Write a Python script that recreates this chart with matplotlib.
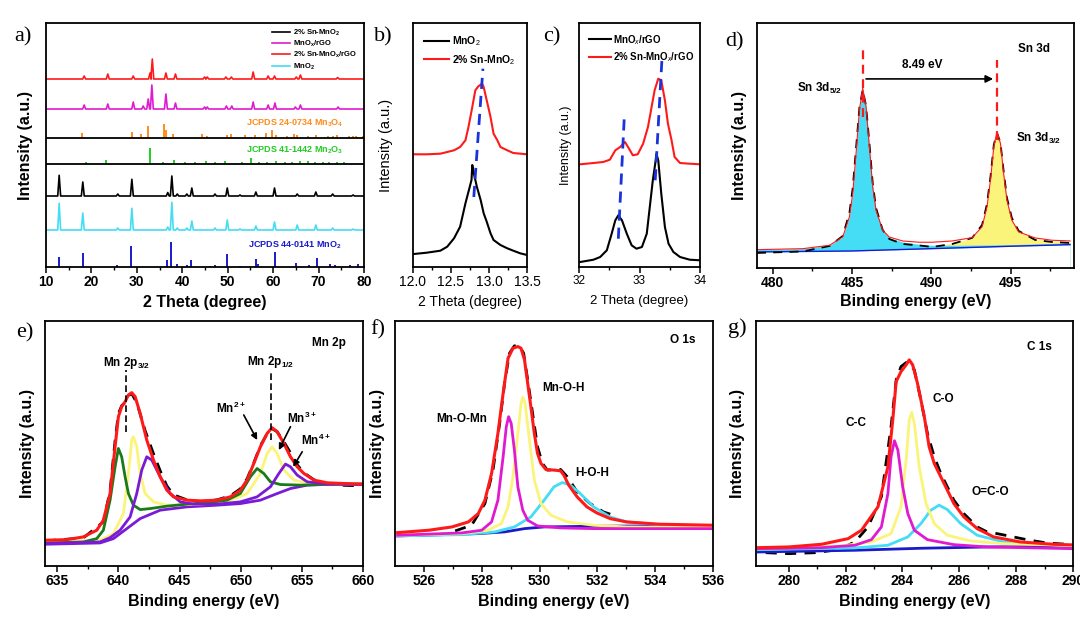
import matplotlib
matplotlib.use('Agg')
import matplotlib.pyplot as plt

plt.rcParams.update({
    'font.family': ['Liberation Sans', 'DejaVu Sans'],
    'mathtext.fontset': 'custom',
    'mathtext.rm': 'Liberation Sans',
    'mathtext.it': 'Liberation Sans:italic',
    'mathtext.bf': 'Liberation Sans:bold',
})

# ---------------- (a) XRD patterns: peak positions (2theta) and heights (a.u.)
a_sn_rgo_pos = [18.4, 23.6, 29.2, 32.9, 33.4, 36.4, 38.5, 44.9, 45.5, 49.6, 50.8, 55.6, 58.9, 60.3, 65.1, 66.0, 74.2]
a_sn_rgo_h = [3, 5, 3, 6, 20, 6, 5, 2, 2, 2, 2, 7, 3, 3, 2, 4, 1.5]
a_rgo_pos = [18.4, 23.6, 29.2, 31.4, 32.5, 33.3, 36.4, 38.5, 44.9, 45.5, 49.7, 50.9, 55.6, 58.9, 60.4, 64.9, 66.0, 74.3]
a_rgo_h = [4, 5, 7, 3, 10, 24, 15, 6, 2, 2, 3, 3, 7, 4, 6, 2, 4, 2]
a_sn_pos = [12.9, 18.1, 25.8, 28.9, 36.8, 37.7, 38.9, 41.0, 42.1, 47.2, 49.9, 52.7, 56.2, 60.3, 65.3, 69.4, 73.1, 77.6]
a_sn_h = [20.7, 14, 2, 16.7, 3.5, 20, 2, 2, 8, 2, 8, 1, 4, 8, 2, 4, 2, 1]
a_mno2_pos = [12.9, 18.1, 25.8, 28.9, 36.8, 37.7, 38.9, 41.0, 42.1, 47.2, 49.9, 52.7, 56.2, 60.3, 65.3, 69.4, 73.1, 77.6]
a_mno2_h = [26.7, 17, 2, 21.7, 3, 27.7, 2, 2, 9, 2, 10, 1, 4, 8, 5, 5, 2, 1]
# reference sticks
mn3o4_pos = [18.0, 28.9, 31.0, 32.4, 36.0, 36.4, 38.0, 44.4, 45.4, 49.8, 50.7, 53.8, 56.0, 58.5, 59.8, 60.6, 63.0,
             64.6, 65.3, 67.6, 69.5, 72.0, 73.2, 74.0, 76.6, 77.5, 78.3, 79.8]
mn3o4_h = [5, 6, 4, 12, 14, 8, 4, 4, 2.5, 3, 4.5, 3, 3, 5, 8, 3, 2, 4, 3, 2, 3, 2, 2, 3, 2, 2, 2, 2]
mn2o3_pos = [18.8, 23.1, 33.0, 35.7, 38.2, 40.6, 42.9, 45.2, 47.3, 49.4, 53.2, 55.1, 56.9, 58.7, 60.6, 62.5, 64.2,
             66.0, 67.7, 69.2, 70.9, 72.4, 74.0, 75.6]
mn2o3_h = [2.5, 4, 16, 2, 4, 2, 2, 3, 2, 3, 2, 6, 2, 2, 3, 2, 2.5, 3, 3, 2, 2, 2, 2, 2]
mno2_ref_pos = [12.8, 18.1, 25.7, 28.8, 36.7, 37.5, 38.9, 41.0, 42.0, 46.2, 47.2, 49.9, 52.7, 56.2, 56.7, 60.3, 65.0,
                68.0, 69.6, 72.5, 73.6, 77.0, 78.7]
mno2_ref_h = [9.7, 13.7, 2, 21, 7, 25, 3, 2, 7.5, 1, 2, 13, 1, 8, 3, 15, 4.5, 2, 9, 3, 2, 2, 3]

# ---------------- (b) zoom at (001)
b_x_mno2 = [12.01, 12.18, 12.36, 12.45, 12.54, 12.62, 12.69, 12.73, 12.77, 12.78, 12.80, 12.84, 12.89, 12.93, 12.97,
            13.02, 13.06, 13.15, 13.24, 13.32, 13.41, 13.50]
b_y_mno2 = [13, 14.3, 16.3, 20.3, 28.7, 40.3, 63.7, 75.3, 87, 102, 93.7, 80.3, 67, 53.7, 45.3, 33.7, 27, 22, 18.7,
            16.3, 13.7, 12]
b_x_sn = [12.01, 12.18, 12.36, 12.45, 12.54, 12.62, 12.69, 12.73, 12.78, 12.82, 12.86, 12.91, 12.93, 12.97, 13.02,
          13.06, 13.11, 13.15, 13.24, 13.32, 13.50]
b_y_sn = [112.7, 112.7, 113.3, 115, 116.7, 120, 126.7, 140, 160, 176.7, 180.7, 183.3, 180, 166.7, 150, 133.3, 126.7,
          120, 116.7, 114, 112.7]

# ---------------- (c)
c_x_rgo = [32.02, 32.24, 32.35, 32.46, 32.54, 32.60, 32.65, 32.71, 32.79, 32.87, 32.95, 33.04, 33.12, 33.17, 33.22,
           33.26, 33.28, 33.31, 33.36, 33.42, 33.48, 33.56, 33.67, 33.83, 34.0]
c_y_rgo = [5, 7.3, 10, 16.7, 33.3, 46.7, 51.7, 46.7, 33.3, 21.7, 18.3, 20, 33.3, 60, 86.7, 103.3, 113.3, 106.7, 73.3,
           40, 23.3, 15, 10, 7.3, 6.7]
c_x_sn = [32.02, 32.24, 32.40, 32.51, 32.60, 32.68, 32.76, 32.81, 32.89, 32.97, 33.06, 33.14, 33.19, 33.25, 33.31,
          33.36, 33.42, 33.47, 33.53, 33.58, 33.67, 33.83, 34.0]
c_y_sn = [102.7, 104, 105, 107.3, 116.7, 120, 125, 120, 111.7, 112.7, 123.3, 140, 156.7, 176.7, 188.3, 186.7, 166.7,
          143.3, 126.7, 110, 104, 103.3, 102.7]

# ---------------- (d) Sn 3d
d_x_env = [479.0, 481.9, 483.58, 484.41, 484.83, 485.04, 485.25, 485.46, 485.67, 485.88, 486.09, 486.30, 486.51,
           486.93, 487.34, 488.18, 489.23, 490.06, 491.32, 492.57, 493.2, 493.51, 493.73, 493.94, 494.14, 494.36,
           494.56, 494.77, 495.08, 495.51, 496.55, 497.6, 498.75]
d_y_env = [18.3, 19.3, 22.7, 31, 51, 74.3, 114.3, 157.7, 179.3, 161, 121, 81, 57.7, 37.7, 31, 27, 25.7, 25.7, 27,
           30.3, 41, 61, 87.7, 121, 136, 124.3, 94.3, 67.7, 47.7, 36, 30, 27.7, 27]
d_y_raw = [15, 16.5, 22, 32, 55, 80, 120, 160, 178, 162, 125, 85, 60, 38, 29, 24, 22.5, 21, 24, 30, 43, 64, 91, 123,
           135, 125, 97, 70, 50, 37, 28, 26, 25]
d_x_52 = [479.0, 481.9, 483.58, 484.41, 484.83, 485.04, 485.25, 485.46, 485.67, 485.88, 486.09, 486.30, 486.51,
          486.93, 487.34, 488.18, 489.23, 490.06, 492.0, 495.0, 498.75]
d_y_52 = [18.3, 19.3, 22.7, 31, 51, 74.3, 114.3, 157.7, 179.3, 161, 121, 81, 57.7, 37.7, 30.3, 26, 23.7, 22.7, 22.7,
          23.3, 25]
d_x_32 = [479.0, 490.0, 491.32, 492.57, 493.2, 493.51, 493.73, 493.94, 494.14, 494.36, 494.56, 494.77, 495.08,
          495.51, 496.55, 497.6, 498.75]
d_y_32 = [16.3, 19.7, 25.3, 29.3, 41, 61, 87.7, 121, 136, 124.3, 94.3, 67.7, 47.7, 36, 29.3, 27, 26]
d_x_bg = [479.0, 485.0, 490.0, 495.0, 498.75]
d_y_bg = [16, 17, 19.3, 21.7, 23.3]

# ---------------- (e) Mn 2p
e_x_env = [634.0, 635.77, 637.13, 638.23, 638.77, 639.32, 639.73, 640.0, 640.27, 640.55, 640.82, 641.09, 641.37,
           641.78, 642.32, 642.87, 643.42, 643.96, 644.51, 645.6, 646.7, 648.06, 649.15, 649.97, 650.52, 651.07,
           651.61, 652.16, 652.57, 652.98, 653.53, 654.07, 654.62, 655.17, 655.99, 657.08, 658.45, 660.03]
e_y_env = [25.7, 26.3, 29, 35.7, 45.7, 72.3, 119, 149, 159, 164, 170.7, 173, 169, 152.3, 125.7, 105.7, 89, 75.7, 69,
           65.7, 65, 65.7, 69, 75.7, 85.7, 102.3, 119, 132.3, 138, 134, 122.3, 109, 99, 92.3, 85.7, 83, 82.3, 81.7]
e_x_raw = [634.0, 637.13, 638.77, 639.32, 639.73, 640.0, 640.27, 640.55, 640.82, 641.09, 641.5, 642.19, 642.87,
           643.42, 643.96, 644.51, 645.6, 646.7, 648.06, 649.15, 649.97, 650.52, 651.07, 651.61, 652.16, 652.57,
           652.98, 653.53, 654.07, 654.62, 655.17, 655.99, 657.08, 658.45, 660.03]
e_y_raw = [25, 28, 44, 75, 125, 152, 160, 163, 170, 172, 163, 135, 112, 95, 80, 71, 66, 64, 66, 70, 77, 87, 103, 120,
           132, 137, 134, 124, 113, 101, 93, 86, 82, 80.5, 80]
e_x_mn2 = [634.0, 637.13, 638.23, 638.77, 639.32, 639.73, 640.0, 640.27, 640.55, 640.82, 641.23, 641.78, 642.6,
           643.96, 645.6, 647.24, 648.88, 649.97, 650.79, 651.34, 651.89, 652.43, 653.25, 654.89, 657.63, 660.03]
e_y_mn2 = [23, 24, 27.3, 35.7, 65.7, 99, 117.3, 109, 89, 72.3, 60.7, 56.3, 57.3, 59.7, 61.7, 63, 65.7, 72.3, 89, 97.3,
           92.3, 84, 81.3, 80.7, 81.7, 81.7]
e_x_mn3 = [634.0, 638.5, 639.59, 640.41, 640.82, 641.09, 641.23, 641.5, 641.78, 642.19, 642.87, 643.96, 646.7,
           648.88, 650.52, 651.61, 652.16, 652.57, 652.98, 653.53, 654.35, 655.72, 657.63, 660.03]
e_y_mn3 = [24, 25.7, 32.3, 52.3, 92.3, 125.7, 129, 119, 92.3, 72.3, 64, 60.7, 61.7, 64, 72.3, 92.3, 112.3, 119,
           112.3, 95.7, 85.7, 82.3, 81.7, 81.7]
e_x_mn4 = [634.0, 638.5, 639.32, 640.14, 640.96, 641.5, 641.91, 642.32, 642.73, 643.42, 644.24, 645.06, 646.15,
           648.06, 649.97, 651.34, 652.43, 653.12, 653.66, 654.07, 654.62, 655.44, 657.08, 660.03]
e_y_mn4 = [22.3, 24, 28.3, 35.7, 49, 72.3, 95.7, 109, 105.7, 89, 72.3, 64, 61.7, 61.7, 64, 69, 79, 92.3, 101.7, 99,
           90.7, 84, 81.7, 81.3]
e_x_bg = [634.0, 638.5, 639.59, 640.69, 641.78, 643.42, 645.6, 648.06, 649.97, 651.61, 652.98, 654.07, 655.44,
          657.63, 660.03]
e_y_bg = [21.7, 23, 27.3, 37.3, 47.3, 55.7, 59, 60.7, 62.3, 65.7, 72.3, 77.3, 80.7, 81.7, 81.7]

# ---------------- (f) O 1s
f_x_env = [525.09, 526.17, 526.97, 527.54, 527.88, 528.11, 528.34, 528.56, 528.74, 528.91, 529.08, 529.25, 529.36,
           529.48, 529.59, 529.70, 529.82, 529.93, 530.05, 530.22, 530.50, 530.73, 530.84, 531.01, 531.30, 531.64,
           531.98, 532.44, 533.01, 534.15, 535.97]
f_y_env = [33.3, 35.7, 39, 44, 52.3, 65.7, 92.3, 132.3, 172.3, 207.3, 217.3, 219, 217.3, 205.7, 182.3, 159, 132.3,
           112.3, 102.3, 96.3, 95.7, 95, 90.7, 80.7, 69, 59, 53, 47.3, 44, 41.7, 40.7]
f_x_raw = [527.08, 527.65, 528.11, 528.39, 528.62, 528.79, 528.96, 529.13, 529.3, 529.45, 529.59, 529.76, 529.93,
           530.1, 530.27, 530.73, 530.96, 531.3, 531.75, 532.21, 532.55]
f_y_raw = [35, 40.7, 62.3, 95.7, 142.3, 182.3, 212.3, 219.7, 219.7, 212.3, 185.7, 152.3, 119, 102.3, 95.7, 96.3, 89,
           74, 62.3, 54, 50.7]
f_x_mom = [525.09, 527.31, 528.0, 528.34, 528.56, 528.74, 528.85, 528.93, 529.02, 529.13, 529.25, 529.42, 529.59,
           529.93, 530.73, 531.87, 535.97]
f_y_mom = [30.7, 33, 35.7, 44, 65.7, 109, 139, 149, 142.3, 115.7, 79, 55.7, 45.7, 40, 38, 37.3, 37.3]
f_x_moh = [525.09, 527.31, 528.22, 528.68, 528.91, 529.08, 529.25, 529.36, 529.42, 529.5, 529.65, 529.82, 530.05,
           530.39, 530.96, 531.87, 533.01, 535.97]
f_y_moh = [30.7, 32.3, 35.7, 42.3, 59, 89, 132.3, 162.3, 168.3, 162.3, 125.7, 85.7, 62.3, 50.7, 44, 40.7, 39, 38.3]
f_x_hoh = [525.09, 527.31, 528.45, 529.13, 529.7, 530.16, 530.5, 530.79, 531.07, 531.41, 531.87, 532.44, 533.01,
           534.15, 535.97]
f_y_hoh = [30, 31.3, 34, 39, 49, 65.7, 79, 83.3, 80.7, 72.3, 59, 49, 44, 41.3, 40]
f_x_bg = [525.09, 527.88, 528.79, 529.48, 530.16, 531.87, 535.97]
f_y_bg = [30, 32.3, 34, 37.3, 39, 39.7, 40.3]

# ---------------- (g) C 1s
g_x_env = [278.93, 280.0, 281.16, 282.09, 282.56, 283.14, 283.49, 283.66, 283.78, 283.95, 284.13, 284.24, 284.36,
           284.53, 284.77, 284.94, 285.12, 285.35, 285.58, 285.81, 286.16, 286.63, 287.21, 288.14, 289.3, 290.0]
g_y_env = [18.3, 19, 21.7, 27.3, 35.7, 59, 99, 145.7, 184, 194, 200.7, 205.7, 200.7, 182.3, 149, 119, 102.3, 89,
           75.7, 62.3, 49, 37.3, 29, 24, 21.7, 21]
g_x_raw = [279.19, 280.0, 280.93, 281.74, 282.33, 282.79, 283.26, 283.6, 283.78, 283.95, 284.13, 284.24, 284.42,
           284.65, 284.88, 285.12, 285.35, 285.58, 285.81, 286.16, 286.63, 286.98, 287.33, 287.79, 288.37, 289.07,
           289.77]
g_y_raw = [13.3, 12.3, 13.3, 16.3, 24, 39, 69, 139, 185.7, 199, 203, 202.3, 195.7, 165.7, 132.3, 109, 92.3, 79, 65.7,
           52.3, 39, 34, 32.3, 29.7, 26.3, 23, 21.7]
g_x_cc = [278.93, 281.16, 282.33, 282.91, 283.26, 283.49, 283.6, 283.72, 283.84, 284.01, 284.19, 284.42, 284.88,
          285.81, 286.98, 290.0]
g_y_cc = [17.3, 18.3, 20.7, 26.3, 39, 72.3, 109, 125, 115.7, 79, 52.3, 35.7, 26.3, 21.3, 19, 17.3]
g_x_co = [278.93, 281.74, 282.91, 283.6, 283.95, 284.13, 284.24, 284.33, 284.42, 284.59, 284.83, 285.12, 285.58,
          286.4, 287.56, 290.0]
g_y_co = [18.3, 19.7, 24, 32.3, 59, 105.7, 145.7, 153.3, 142.3, 99, 62.3, 42.3, 30.7, 25, 22.3, 20.3]
g_x_oco = [278.93, 282.33, 283.49, 284.19, 284.65, 285.0, 285.29, 285.58, 286.05, 286.63, 287.56, 288.72, 290.0]
g_y_oco = [16.3, 18, 20.7, 29, 42.3, 55.7, 60.7, 56.3, 42.3, 30.7, 24, 21.7, 20.7]
g_x_bg = [278.93, 282.33, 284.65, 286.98, 290.0]
g_y_bg = [14, 15.7, 17.7, 19, 19.7]

# ---------------- colours
RED = '#ff1a1a'
MAG = '#e01ad0'
CYAN = '#45dcf5'
BLUE = '#1a1acc'
ORANGE = '#ff8c1a'
GREEN = '#22cc22'
YEL = '#fbf47a'
DGREEN = '#1a7a1a'
PURP = '#7a1ad6'

W, H = 1080, 622
fig = plt.figure(figsize=(W / 100, H / 100), dpi=100)


def add_ax(l, t, r, b):
    return fig.add_axes([l / W, 1 - b / H, (r - l) / W, (b - t) / H])


def style(ax, xlim, ticks, minor, bold=True, size=10, ylim=(0, 244.5)):
    ax.set_xlim(*xlim)
    ax.set_ylim(*ylim)
    ax.set_yticks([])
    ax.set_xticks(ticks)
    ax.set_xticks(minor, minor=True)
    for s in ax.spines.values():
        s.set_linewidth(1.3)
    ax.tick_params(axis='x', which='major', direction='out', length=4, width=1.1, labelsize=size, pad=2)
    ax.tick_params(axis='x', which='minor', direction='out', length=2.5, width=1)
    if bold:
        for t in ax.get_xticklabels():
            t.set_fontweight('bold')


def tri(pos, h, lo, hi, hw=0.32):
    xs, ys = [lo], [0.0]
    for p, v in sorted(zip(pos, h)):
        xs += [p - hw, p, p + hw]
        ys += [0.0, v, 0.0]
    xs.append(hi)
    ys.append(0.0)
    return xs, ys


def ylab(ax, x, bold=True, size=11.5):
    ax.set_ylabel('Intensity (a.u.)', fontsize=size, fontweight='bold' if bold else 'normal')
    ax.yaxis.set_label_coords(x, 0.5)


def xlab(ax, text, y, bold=True, size=11.5):
    ax.set_xlabel(text, fontsize=size, fontweight='bold' if bold else 'normal')
    ax.xaxis.set_label_coords(0.5, y)


# ================= (a)
ax = add_ax(46, 23, 364, 267)
style(ax, (10, 80), list(range(10, 81, 10)), list(range(15, 80, 10)), ylim=(0, 244))
for pos, h, off, col, lab in [
    (a_sn_pos, a_sn_h, 71, 'black', '2% Sn-MnO$_\\mathbf{2}$'),
    (a_rgo_pos, a_rgo_h, 158, MAG, 'MnO$_\\mathbf{x}$/rGO'),
    (a_sn_rgo_pos, a_sn_rgo_h, 188, RED, '2% Sn-MnO$_\\mathbf{x}$/rGO'),
    (a_mno2_pos, a_mno2_h, 37, CYAN, 'MnO$_\\mathbf{2}$'),
]:
    xs, ys = tri(pos, h, 10, 80)
    ax.plot(xs, [v + off for v in ys], color=col, lw=1.2, label=lab)
ax.vlines(mn3o4_pos, 129, [129 + v for v in mn3o4_h], color=ORANGE, lw=1.4)
ax.vlines(mn2o3_pos, 103, [103 + v for v in mn2o3_h], color=GREEN, lw=1.4)
ax.vlines(mno2_ref_pos, 0, mno2_ref_h, color=BLUE, lw=1.4)
ax.axhline(129, color='black', lw=1.3)
ax.axhline(103, color='black', lw=1.3)
ax.text(75.4, 144, 'JCPDS 24-0734 Mn$_\\mathbf{3}$O$_\\mathbf{4}$', color=ORANGE, ha='right', va='center',
        fontsize=6.5, fontweight='bold')
ax.text(75.4, 117, 'JCPDS 41-1442 Mn$_\\mathbf{2}$O$_\\mathbf{3}$', color=GREEN, ha='right', va='center',
        fontsize=6.5, fontweight='bold')
ax.text(75.1, 22, 'JCPDS 44-0141 MnO$_\\mathbf{2}$', color=BLUE, ha='right', va='center',
        fontsize=6.5, fontweight='bold')
ax.legend(loc='upper right', bbox_to_anchor=(1.0, 1.01), frameon=False, handlelength=2.4, handletextpad=0.4,
          labelspacing=0.15, borderpad=0.4, prop={'size': 5.5, 'weight': 'bold'})
ylab(ax, -0.041)
xlab(ax, '2 Theta (degree)', -0.115)

# ================= (b)
ax = add_ax(413, 23, 527, 267)
style(ax, (12.0, 13.5), [12.0, 12.5, 13.0, 13.5], [12.25, 12.75, 13.25], bold=False, size=10, ylim=(0, 244))
ax.set_xticklabels(['12.0', '12.5', '13.0', '13.5'])
ax.plot(b_x_mno2, b_y_mno2, color='black', lw=1.5, label='MnO$_2$')
ax.plot(b_x_sn, b_y_sn, color=RED, lw=1.5, label='2% Sn-MnO$_2$')
ax.plot([12.80, 12.92], [70, 198.3], color='#1a33dd', lw=2, ls=(0, (4, 2.5)))
ax.legend(loc='upper left', bbox_to_anchor=(0.0, 1.0), frameon=False, handlelength=2.4, handletextpad=0.2,
          labelspacing=0.45, borderpad=0.6, prop={'size': 7.5, 'weight': 'bold'})
ylab(ax, -0.175, bold=False, size=10.5)
xlab(ax, '2 Theta (degree)', -0.115, bold=False, size=10)

# ================= (c)
ax = add_ax(579, 23, 700, 267)
style(ax, (32, 34), [32, 33, 34], [32.5, 33.5], bold=False, size=8.5, ylim=(0, 244))
ax.plot(c_x_rgo, c_y_rgo, color='black', lw=1.5, label='MnO$_x$/rGO')
ax.plot(c_x_sn, c_y_sn, color=RED, lw=1.5, label='2% Sn-MnO$_x$/rGO')
ax.plot([32.65, 32.75], [28.3, 151.7], color='#1a33dd', lw=2, ls=(0, (4, 2.5)))
ax.plot([33.26, 33.37], [86.7, 206.7], color='#1a33dd', lw=2, ls=(0, (4, 2.5)))
ax.legend(loc='upper left', bbox_to_anchor=(0.0, 1.0), frameon=False, handlelength=2.3, handletextpad=0.2,
          labelspacing=0.35, borderpad=0.5, prop={'size': 7, 'weight': 'bold'})
ylab(ax, -0.058, bold=False, size=9)
xlab(ax, '2 Theta (degree)', -0.115, bold=False, size=9.5)

# ================= (d)
ax = add_ax(757, 23, 1074, 268)
style(ax, (479, 499), [480, 485, 490, 495], [482.5, 487.5, 492.5, 497.5])
ax.fill_between(d_x_32, 0, d_y_32, color=YEL, lw=0)
ax.fill_between(d_x_52, 0, d_y_52, color=CYAN, lw=0)
ax.fill_between(d_x_bg, 0, d_y_bg, color='white', lw=0)
ax.plot(d_x_bg, d_y_bg, color=BLUE, lw=1.0)
ax.plot(d_x_env, d_y_raw, color='black', lw=1.3, ls=(0, (5, 4)))
ax.plot(d_x_env, d_y_env, color=RED, lw=0.8)
ax.plot([485.67, 485.67], [151, 219.3], color=RED, lw=1.6, ls=(0, (4, 2.5)))
ax.plot([494.14, 494.14], [127.7, 207.7], color=RED, lw=1.6, ls=(0, (4, 2.5)))
ax.annotate('', xy=(493.9, 188.7), xytext=(485.88, 188.7),
            arrowprops=dict(arrowstyle='-|>', color='black', lw=1.2, mutation_scale=11, shrinkA=0, shrinkB=0))
ax.text(489.43, 202.7, '8.49 eV', fontsize=8.5, fontweight='bold', ha='center', va='center')
ax.text(496.45, 218.3, 'Sn 3d', fontsize=8.5, fontweight='bold', ha='center', va='center')
ax.text(482.95, 179.3, 'Sn 3d$_\\mathbf{5/2}$', fontsize=8.5, fontweight='bold', ha='center', va='center')
ax.text(496.76, 129.3, 'Sn 3d$_\\mathbf{3/2}$', fontsize=8.5, fontweight='bold', ha='center', va='center')
ylab(ax, -0.032)
xlab(ax, 'Binding energy (eV)', -0.106)

# ================= (e)
ax = add_ax(45, 321, 363, 566)
style(ax, (634, 660), [635, 640, 645, 650, 655, 660], [637.5, 642.5, 647.5, 652.5, 657.5])
ax.plot(e_x_raw, e_y_raw, color='black', lw=2, ls=(0, (4, 3)))
ax.plot(e_x_bg, e_y_bg, color=PURP, lw=2)
ax.plot(e_x_mn3, e_y_mn3, color=YEL, lw=2)
ax.plot(e_x_mn2, e_y_mn2, color=DGREEN, lw=2)
ax.plot(e_x_mn4, e_y_mn4, color=PURP, lw=2)
ax.plot(e_x_env, e_y_env, color=RED, lw=2.2)
ax.plot([640.64, 640.64], [134, 195.7], color='black', lw=1.2, ls=(0, (4, 2)))
ax.plot([652.49, 652.49], [125.7, 195.7], color='black', lw=1.2, ls=(0, (4, 2)))
ax.text(640.68, 202.3, 'Mn 2p$_\\mathbf{3/2}$', fontsize=8.5, fontweight='bold', ha='center', va='center')
ax.text(652.43, 204, 'Mn 2p$_\\mathbf{1/2}$', fontsize=8.5, fontweight='bold', ha='center', va='center')
ax.text(657.2, 222.3, 'Mn 2p', fontsize=8.5, fontweight='bold', ha='center', va='center')
ax.text(649.16, 157.3, 'Mn$^\\mathbf{2+}$', fontsize=8.5, fontweight='bold', ha='center', va='center')
ax.text(655.0, 147.3, 'Mn$^\\mathbf{3+}$', fontsize=8.5, fontweight='bold', ha='center', va='center')
ax.text(656.1, 125.7, 'Mn$^\\mathbf{4+}$', fontsize=8.5, fontweight='bold', ha='center', va='center')
for (x0, y0), (x1, y1) in [((650.25, 150.7), (651.35, 125.7)), ((654.07, 139), (653.12, 115.7)),
                           ((655.03, 114), (654.29, 99))]:
    ax.annotate('', xy=(x1, y1), xytext=(x0, y0),
                arrowprops=dict(arrowstyle='-|>', color='black', lw=1.2, mutation_scale=9, shrinkA=0, shrinkB=0))
ylab(ax, -0.031)
xlab(ax, 'Binding energy (eV)', -0.114)

# ================= (f)
ax = add_ax(395, 321, 713, 566)
style(ax, (525, 536), [526, 528, 530, 532, 534, 536], [527, 529, 531, 533, 535])
ax.plot(f_x_raw, f_y_raw, color='black', lw=2, ls=(0, (4, 3)))
ax.plot(f_x_bg, f_y_bg, color=BLUE, lw=2)
ax.plot(f_x_hoh, f_y_hoh, color=CYAN, lw=2)
ax.plot(f_x_moh, f_y_moh, color=YEL, lw=2)
ax.plot(f_x_mom, f_y_mom, color=MAG, lw=2)
ax.plot(f_x_env, f_y_env, color=RED, lw=2.2)
ax.text(534.95, 225.7, 'O 1s', fontsize=8.5, fontweight='bold', ha='center', va='center')
ax.text(530.84, 177.3, 'Mn-O-H', fontsize=8.5, fontweight='bold', ha='center', va='center')
ax.text(527.31, 146.7, 'Mn-O-Mn', fontsize=8.5, fontweight='bold', ha='center', va='center')
ax.text(531.81, 93, 'H-O-H', fontsize=8.5, fontweight='bold', ha='center', va='center')
ylab(ax, -0.031)
xlab(ax, 'Binding energy (eV)', -0.114)

# ================= (g)
ax = add_ax(756, 321, 1073, 566)
style(ax, (278.85, 290), [280, 282, 284, 286, 288, 290], [281, 283, 285, 287, 289])
ax.plot(g_x_raw, g_y_raw, color='black', lw=2, ls=(0, (4, 3)))
ax.plot(g_x_bg, g_y_bg, color=BLUE, lw=2)
ax.plot(g_x_oco, g_y_oco, color=CYAN, lw=2)
ax.plot(g_x_co, g_y_co, color=YEL, lw=2)
ax.plot(g_x_cc, g_y_cc, color=MAG, lw=2)
ax.plot(g_x_env, g_y_env, color=RED, lw=2.2)
ax.text(288.81, 219, 'C 1s', fontsize=8.5, fontweight='bold', ha='center', va='center')
ax.text(285.44, 167, 'C-O', fontsize=8.5, fontweight='bold', ha='center', va='center')
ax.text(282.38, 142.3, 'C-C', fontsize=8.5, fontweight='bold', ha='center', va='center')
ax.text(287.09, 74, 'O=C-O', fontsize=8.5, fontweight='bold', ha='center', va='center')
ylab(ax, -0.035)
xlab(ax, 'Binding energy (eV)', -0.114)

# ================= panel letters
for letter, x, y in [('a)', 23, 37), ('b)', 383, 37), ('c)', 552, 37), ('d)', 735, 42),
                     ('e)', 25, 333), ('f)', 378, 330), ('g)', 737, 328)]:
    fig.text(x / W, 1 - y / H, letter, fontsize=16, family='Liberation Serif', ha='center', va='center')

fig.savefig('out.png', dpi=100)
